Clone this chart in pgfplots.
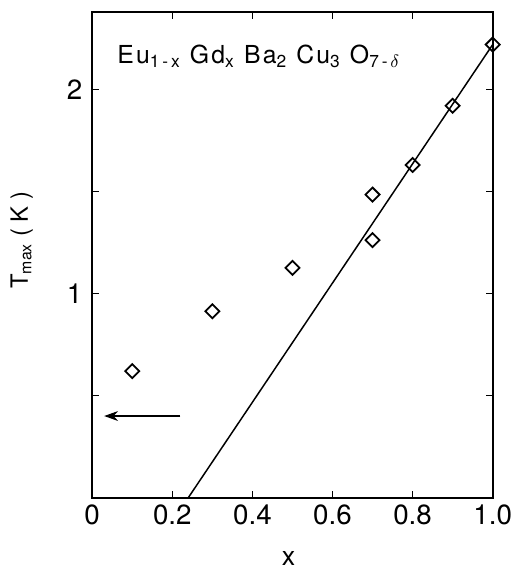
\documentclass[border=0pt]{standalone}
\usepackage{fontspec}
\setmainfont{TeX Gyre Heros}
\newfontfamily\ttlfont[LetterSpace=9]{TeX Gyre Heros}
\usepackage{pgfplots}
\pgfplotsset{compat=1.18}
\usetikzlibrary{arrows.meta}

\begin{document}
\begin{tikzpicture}
\begin{axis}[name=ax,
  scale only axis, width=202pt, height=245pt,
  xmin=0, xmax=1, ymin=0, ymax=2.38,
  axis line style={line width=1pt},
  tick style={line width=0.8pt, black},
  major tick length=3.5pt,
  tick align=inside,
  xtick={0,0.2,0.4,0.6,0.8,1},
  xticklabels={0,0.2,0.4,0.6,0.8,1.0},
  ytick={0.5,1,1.5,2},
  yticklabels={,1,,2},
  ticklabel style={font=\fontsize{14}{16}\selectfont},
  yticklabel style={xshift=-1.5pt},
  /pgf/number format/assume math mode=true,
  xlabel={x},
  ylabel={T\textsubscript{max} ( K )},
  xlabel style={font=\fontsize{13.5}{15}\selectfont, inner sep=0pt, at={(axis description cs:0.49,-0.126)}, anchor=center},
  ylabel style={font=\fontsize{12}{14}\selectfont, at={(axis description cs:-0.176,0.53)}, anchor=center},
]
% linear fit
\addplot[black, line width=0.75pt, no marks] coordinates {(0.24,0) (1.0,2.22)};
% measured T_max
\addplot[black, only marks, mark=square, mark size=2.5pt,
  mark options={rotate=45, line width=0.9pt, fill=none}]
  coordinates {(0.1,0.62) (0.3,0.913) (0.5,1.126) (0.7,1.485) (0.7,1.262)
               (0.8,1.63) (0.9,1.92) (1.0,2.22)};
\draw[line width=0.6pt, -{Stealth[length=7pt,width=5pt]}] (axis cs:0.22,0.40) -- (axis cs:0.03,0.40);
\node[anchor=base west, inner sep=0pt, font=\ttlfont\fontsize{12.5}{14}\selectfont] at (axis cs:0.062,2.126)
  {Eu\textsubscript{1\,-\,x}\ Gd\textsubscript{x}\ Ba\textsubscript{2}\ Cu\textsubscript{3}\ O\textsubscript{7\,-\,$\delta$}};
\end{axis}
\pgfresetboundingbox
\path (ax.south west) ++(-46.5pt,-38.5pt) coordinate (bl);
\path (ax.north east) ++(10pt,6pt) coordinate (tr);
\path (bl) rectangle (tr);
\end{tikzpicture}
\end{document}
